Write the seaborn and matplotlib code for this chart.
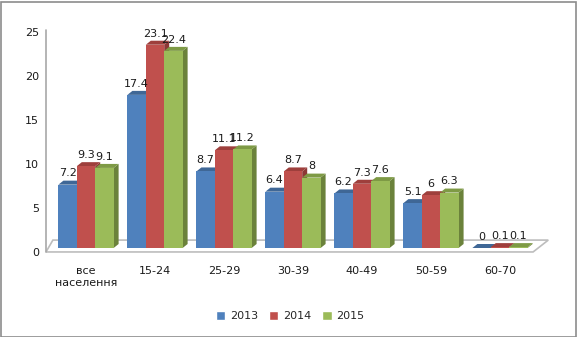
import matplotlib
matplotlib.use("Agg")
import matplotlib.pyplot as plt
import matplotlib.transforms as mtransforms
from matplotlib.patches import Polygon, Rectangle
from matplotlib.lines import Line2D
import seaborn as sns
import pandas as pd

categories = ["все\nнаселення", "15-24", "25-29", "30-39", "40-49", "50-59", "60-70"]
years = ["2013", "2014", "2015"]
v2013 = [7.2, 17.4, 8.7, 6.4, 6.2, 5.1, 0]
v2014 = [9.3, 23.1, 11.1, 8.7, 7.3, 6, 0.1]
v2015 = [9.1, 22.4, 11.2, 8, 7.6, 6.3, 0.1]
yticks = [0, 5, 10, 15, 20, 25]

front = ["#4F81BD", "#C0504D", "#9BBB59"]
side = ["#385D8A", "#8C3836", "#6B823B"]
top = ["#3F6796", "#9E3F3C", "#7E9A45"]

rows = []
for yr, vals in zip(years, [v2013, v2014, v2015]):
    for c, v in zip(categories, vals):
        rows.append({"cat": c, "val": v, "year": yr})
df = pd.DataFrame(rows)

sns.set_theme(style="white")
plt.rcParams["font.family"] = ["DejaVu Sans"]

W, H = 577, 337
fig = plt.figure(figsize=(W / 100, H / 100), dpi=100)
ax = fig.add_axes([46 / W, 1 - 248 / H, (540 - 46) / W, 220 / H])
sns.barplot(data=df, x="cat", y="val", hue="year", order=categories, hue_order=years,
            palette=front, saturation=1, width=0.8, ax=ax, errorbar=None)
handles, labels = ax.get_legend_handles_labels()
if ax.get_legend():
    ax.get_legend().remove()

xmin, xmax = -0.58, 6.58
ax.set_xlim(xmin, xmax)
ax.set_ylim(0, 25)
dx = 5 / 69.0
dy = 4 / 8.8

bars = [p for p in ax.patches if isinstance(p, Rectangle) and p.get_width() > 0.01 and p.get_visible()]
for p in bars:
    x0, w, h = p.get_x(), p.get_width(), p.get_height()
    fc = p.get_facecolor()
    idx = min(range(3), key=lambda i: sum((a - b) ** 2 for a, b in zip(matplotlib.colors.to_rgb(front[i]), fc[:3])))
    p.set_zorder(4)
    p.set_edgecolor("none")
    p.set_clip_on(False)
    ax.add_patch(Polygon([(x0 + w, 0), (x0 + w + dx, dy), (x0 + w + dx, h + dy), (x0 + w, h)],
                         closed=True, facecolor=side[idx], edgecolor="none", zorder=3, clip_on=False))
    ax.add_patch(Polygon([(x0, h), (x0 + dx, h + dy), (x0 + w + dx, h + dy), (x0 + w, h)],
                         closed=True, facecolor=top[idx], edgecolor="none", zorder=3, clip_on=False))
    ax.text(x0 + w / 2, h + dy + 0.25, f"{h:g}", ha="center", va="bottom", fontsize=8,
            color="#1a1a1a", zorder=6, clip_on=False)

# floor
ax.add_patch(Polygon([(xmin, -0.45), (6.48, -0.45), (6.70, 0.9), (xmin + 0.1, 0.9)], closed=True,
                     facecolor="white", edgecolor="#BDBDBD", lw=1.2, zorder=1, clip_on=False))
ax.add_line(Line2D([xmin, xmin], [-0.45, 24.8], color="#A8A8A8", lw=1.2, zorder=2, clip_on=False))

for s in ax.spines.values():
    s.set_visible(False)
ax.set_yticks(yticks)
ax.set_yticklabels([str(t) for t in yticks])
ax.tick_params(axis="y", length=0, pad=5, labelsize=8, labelcolor="#1a1a1a")
ax.tick_params(axis="x", length=0, pad=13, labelsize=8, labelcolor="#1a1a1a")
off = mtransforms.ScaledTranslation(0, -4 / 100, fig.dpi_scale_trans)
for lbl in ax.get_yticklabels():
    lbl.set_transform(lbl.get_transform() + off)
ax.set_xlabel("")
ax.set_ylabel("")

fig.legend(handles, labels, loc="center", bbox_to_anchor=(290 / W, 1 - 316 / H), ncol=3,
           frameon=False, fontsize=8, handlelength=0.85, handleheight=0.85,
           columnspacing=1.0, handletextpad=0.4)

fig.add_artist(Rectangle((0.5 / W, 0.5 / H), 1 - 2 / W, 1 - 2 / H, transform=fig.transFigure,
                         fill=False, edgecolor="#8C8C8C", lw=1.2))
fig.savefig("out.png", dpi=100, facecolor="white")
